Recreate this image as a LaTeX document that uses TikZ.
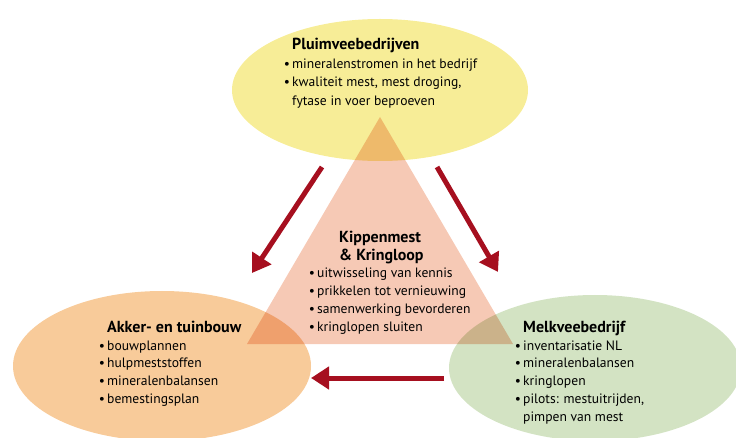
\documentclass[tikz,border=0pt]{standalone}
\usepackage{fontspec}
\setmainfont{PT Sans}
\usetikzlibrary{positioning, shapes.geometric, arrows.meta}
\definecolor{geel}{HTML}{F7ED97}
\definecolor{oranje}{HTML}{F8CB9A}
\definecolor{groen}{HTML}{D3E3C3}
\definecolor{roze}{HTML}{F6C9B5}
\definecolor{pijlrood}{HTML}{A60F1F}
\tikzstyle{sector} = [ellipse, draw=none, inner sep=0pt]
\tikzstyle{tekst} = [align=left, anchor=north west, inner sep=0pt, font=\fontsize{13.6}{17.7}\selectfont]
\tikzstyle{arrow} = [line width=5pt, draw=pijlrood, -{Triangle[length=18pt,width=22pt]}]
\newcommand{\punt}{\llap{\textbullet\,}}
\newcommand{\kop}[1]{{\fontsize{16}{17.7}\selectfont\bfseries #1}}

\begin{document}
\begin{tikzpicture}[x=1pt, y=-1pt]
			\useasboundingbox (0,0) rectangle (736,438);
			%ellipsen
			\node (pluim) [sector, fill=geel, minimum width=296pt, minimum height=142pt] at (380,90) {};
			\node (akker) [sector, fill=oranje, minimum width=298pt, minimum height=150pt] at (162,366) {};
			\node (melk) [sector, fill=groen, minimum width=292pt, minimum height=146pt] at (595,368) {};
			
			%driehoek
			\coordinate (top) at (380,117);
			\coordinate (links) at (247,344);
			\coordinate (rechts) at (513,344);
			\begin{scope}[blend mode=multiply]
				\fill [roze] (top) -- (rechts) -- (links) -- cycle;
			\end{scope}
			
			%teksten
			\node (tpluim) [tekst, font=\fontsize{13.6}{18.6}\selectfont] at (292,38) {\kop{Pluimveebedrijven}\\
				\punt mineralenstromen in het bedrijf\\
				\punt kwaliteit mest, mest droging,\\
				fytase in voer beproeven};
			\node (tkip) [tekst] at (317,231) {\hspace*{22pt}\kop{Kippenmest}\\
				\hspace*{22pt}\kop{\& Kringloop}\\
				\punt uitwisseling van kennis\\
				\punt prikkelen tot vernieuwing\\
				\punt samenwerking bevorderen\\
				\punt kringlopen sluiten};
			\node (takker) [tekst] at (107,321) {\kop{Akker- en tuinbouw}\\
				\punt bouwplannen\\
				\punt hulpmeststoffen\\
				\punt mineralenbalansen\\
				\punt bemestingsplan};
			\node (tmelk) [tekst] at (523,321) {\kop{Melkveebedrijf}\\
				\punt inventarisatie NL\\
				\punt mineralenbalansen\\
				\punt kringlopen\\
				\punt pilots: mestuitrijden,\\
				pimpen van mest};
			
			%pijlen
			\coordinate (p1) at (322,167);
			\coordinate (p1e) at (252,273);
			\coordinate (p2) at (437,167);
			\coordinate (p2e) at (498,272);
			\coordinate (p3) at (444,378);
			\coordinate (p3e) at (311,378);
			\draw [arrow] (p1) -- (p1e);
			\draw [arrow] (p2) -- (p2e);
			\draw [arrow] (p3) -- (p3e);
		\end{tikzpicture}
\end{document}
